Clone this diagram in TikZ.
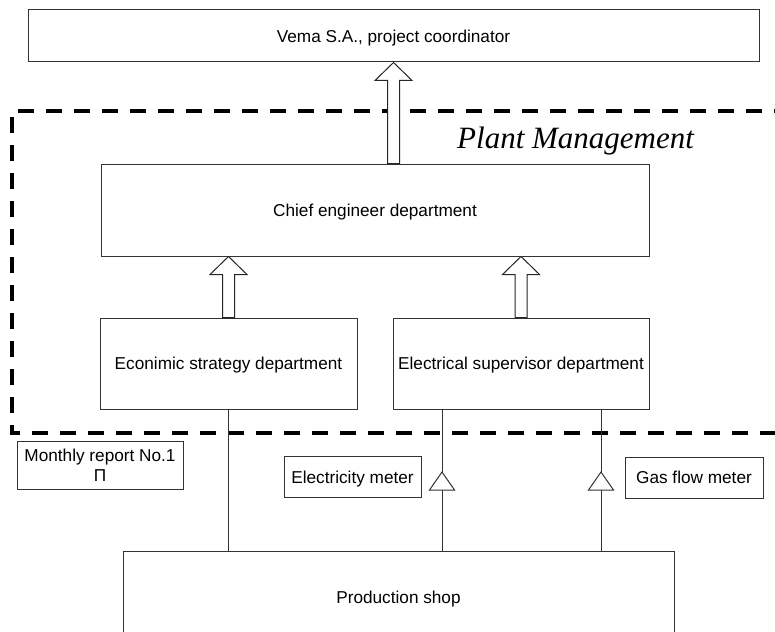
\documentclass[tikz,border=0pt]{standalone}
\usepackage{fontspec}
\setmainfont{Liberation Sans}
\newfontfamily\timesfam{Liberation Serif}
\usetikzlibrary{calc}
\tikzset{
  box/.style={draw=black!80, line width=1pt, inner sep=0pt, align=center,
    font=\fontsize{17.2}{20}\selectfont, text height=12.3pt, text depth=0pt},
  conn/.style={draw=black!80, line width=1pt},
  harrow/.style={draw=black!85, line width=1pt, fill=white},
  frame/.style={draw=black, line width=4pt, dash pattern=on 16pt off 12pt},
  meter/.style={draw=black!80, line width=1pt, fill=white},
}
\newcommand\hollowup[2]{\draw[harrow] let \p1=(#1), \p2=(#2) in
  (\x1-6pt,\y1) -- (\x1-6pt,\y2-18pt) -- (\x1-18.5pt,\y2-18pt) -- (\x1,\y2)
  -- (\x1+18.5pt,\y2-18pt) -- (\x1+6pt,\y2-18pt) -- (\x1+6pt,\y1) -- cycle;}
\newcommand\metertri[1]{\draw[meter] let \p1=(#1) in
  (\x1,\y1+9pt) -- (\x1+12.5pt,\y1-9pt) -- (\x1-12.5pt,\y1-9pt) -- cycle;}
\begin{document}
\begin{tikzpicture}[x=1pt,y=-1pt]
\useasboundingbox (0,0) rectangle (775,631);
% dashed plant management frame
\draw[frame] (790,111) -- (12,111) -- (12,433) -- (790,433);
\node[anchor=base west, inner sep=0pt, font=\timesfam\itshape\fontsize{31}{35}\selectfont] (pm) at (457,149) {Plant Management};
% boxes
\node[box, minimum width=731pt, minimum height=52pt] (vema) at (393.5,36) {Vema S.A., project coordinator};
\node[box, minimum width=548pt, minimum height=92pt] (chief) at (375,210) {Chief engineer department};
\node[box, minimum width=257pt, minimum height=91pt] (econ) at (228.5,363.5) {Econimic strategy department};
\node[box, minimum width=256pt, minimum height=91pt] (elec) at (521,363.5) {Electrical supervisor department};
\node[box, minimum width=166pt, minimum height=48pt, text height=32.3pt, text depth=0pt] (report) at (100,465) {Monthly report No.1\\Π};
\node[box, minimum width=137pt, minimum height=41pt] (emeter) at (352.5,477) {Electricity meter};
\node[box, minimum width=138pt, minimum height=41pt] (gmeter) at (694,477.5) {Gas flow meter};
\node[box, minimum width=551pt, minimum height=92pt] (prod) at (398.5,597) {Production shop};
% hollow arrows
\hollowup{chief.north -| vema.south}{vema.south}
\hollowup{econ.north}{econ.north |- chief.south}
\hollowup{elec.north}{elec.north |- chief.south}
% flow lines
\coordinate (l1) at (442,409);
\coordinate (l2) at (601,409);
\draw[conn] (econ.south) -- (econ.south |- prod.north);
\draw[conn] (l1) -- (l1 |- prod.north);
\draw[conn] (l2) -- (l2 |- prod.north);
\coordinate (t1) at (442,481);
\coordinate (t2) at (601,481);
\metertri{t1}
\metertri{t2}
\end{tikzpicture}
\end{document}
